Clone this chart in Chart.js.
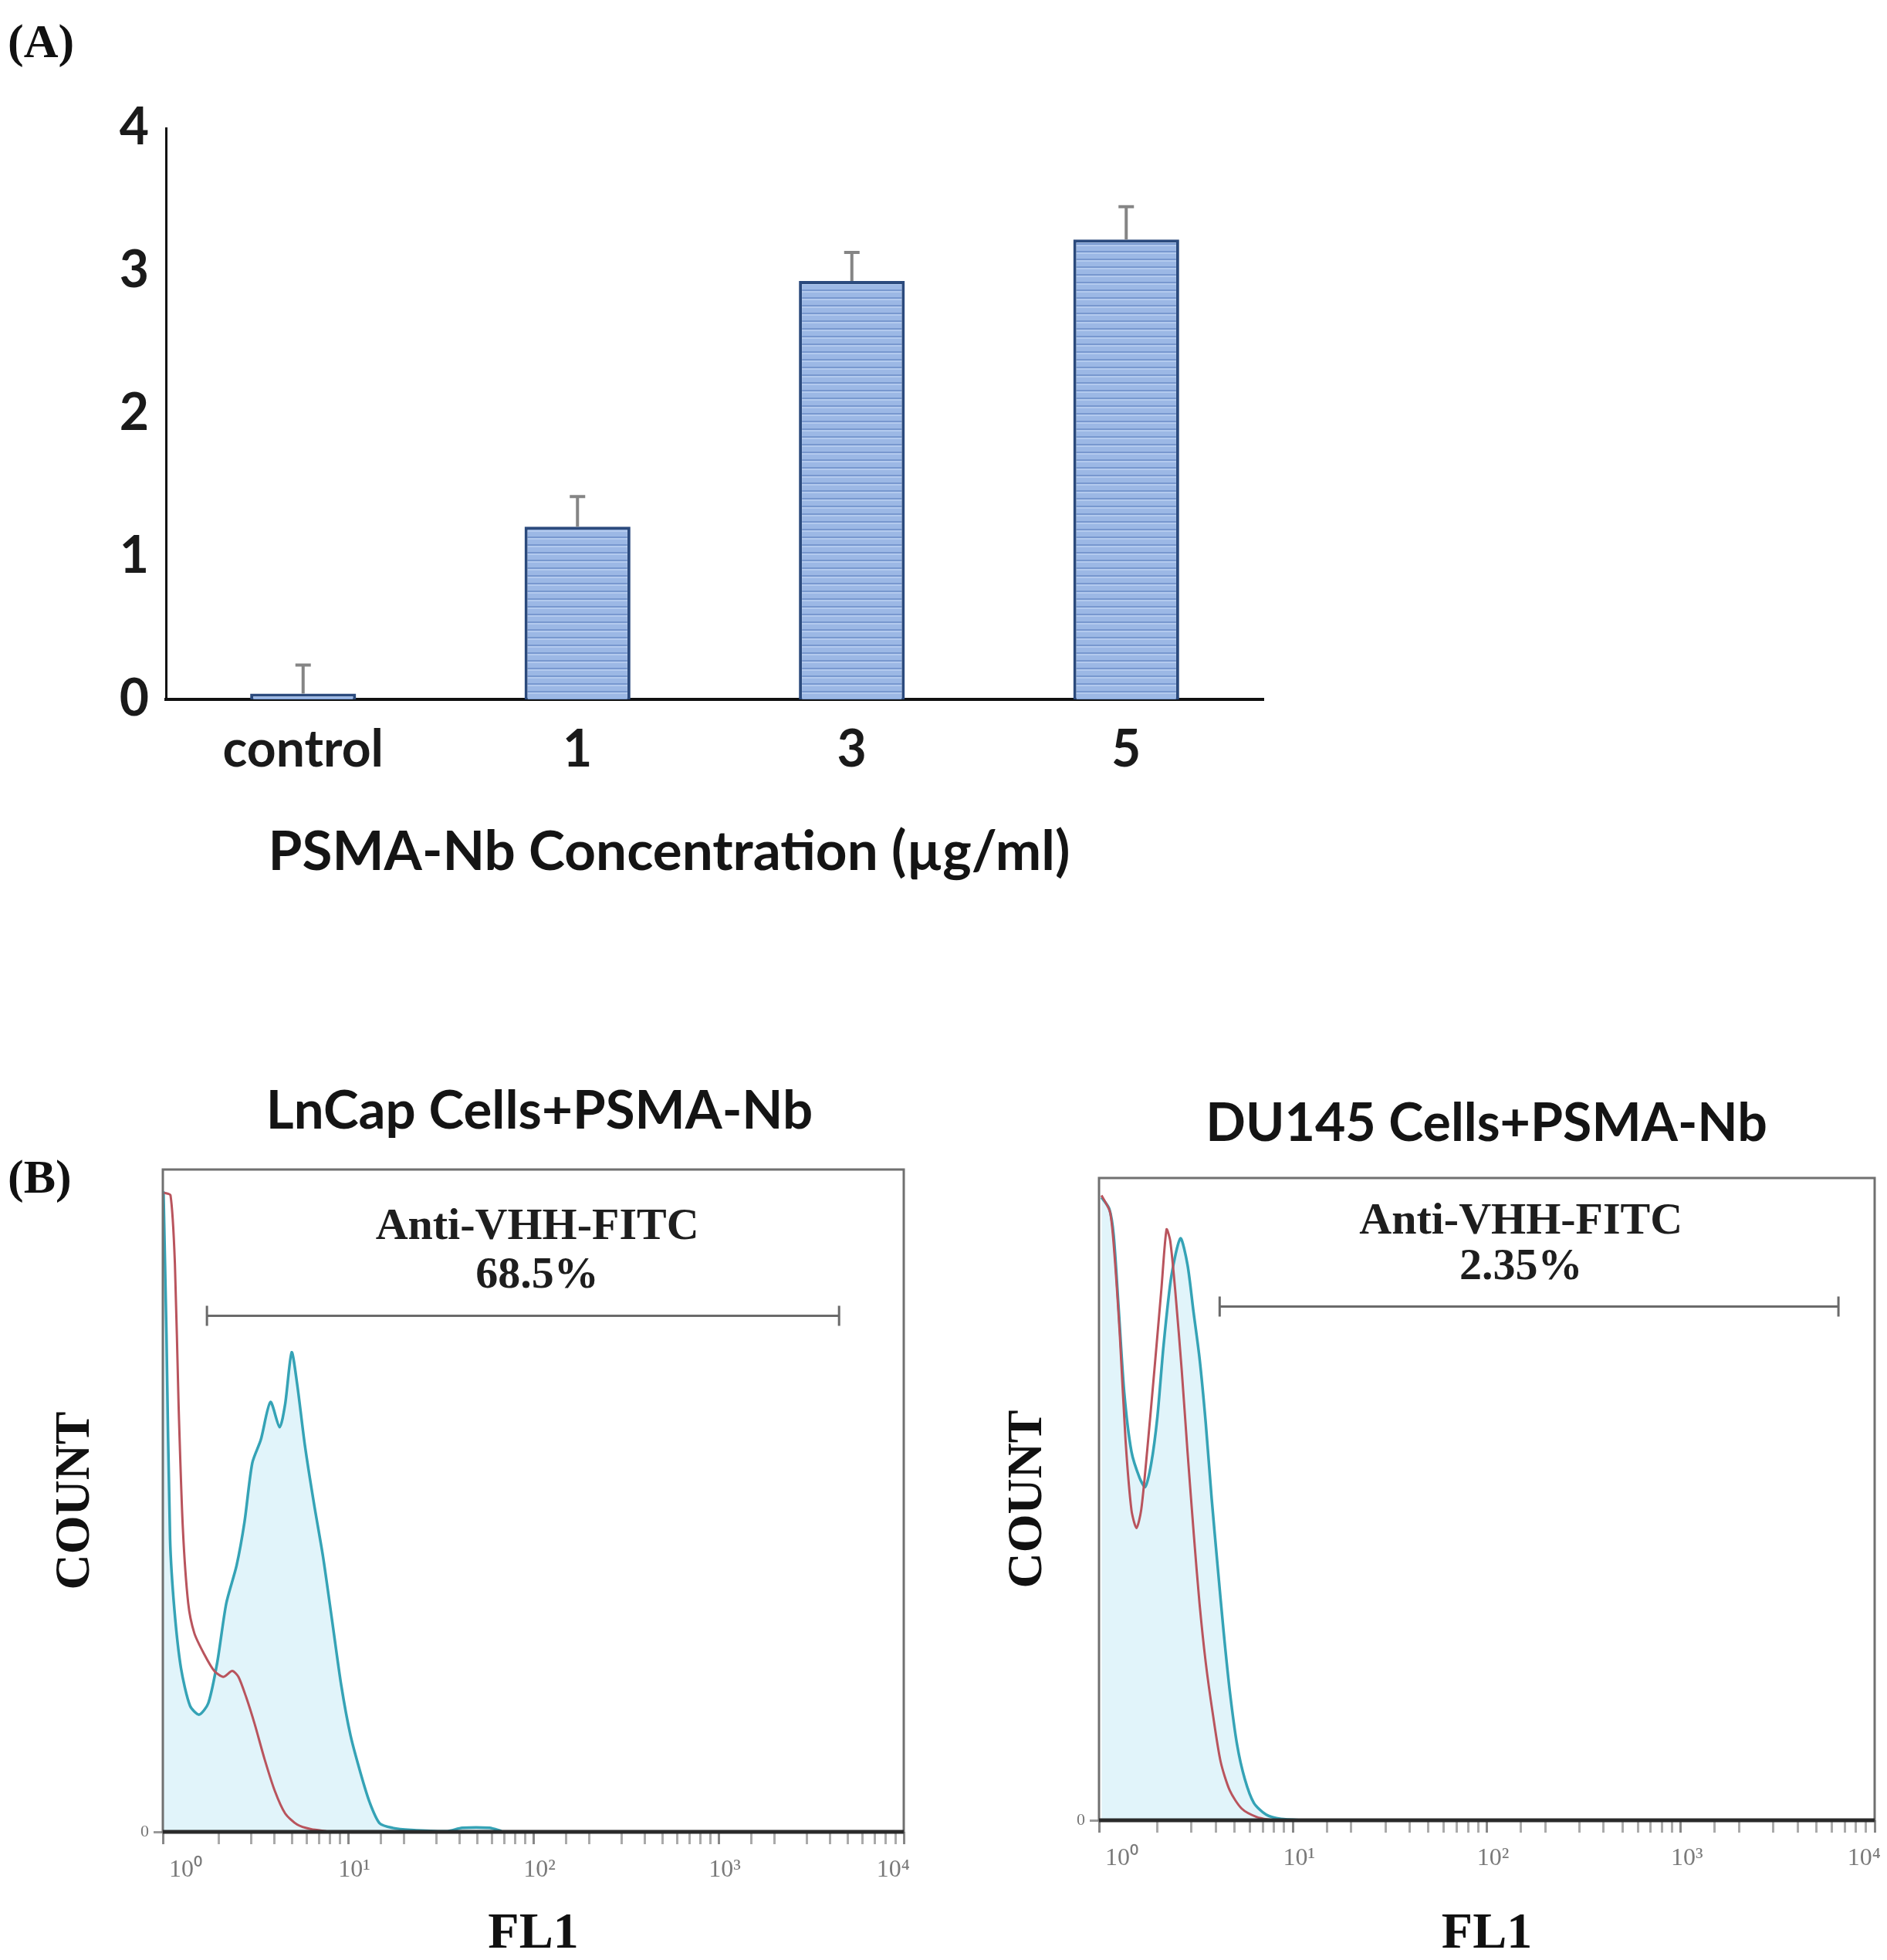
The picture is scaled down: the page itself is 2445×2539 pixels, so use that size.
<!DOCTYPE html>
<html>
<head>
<meta charset="utf-8">
<script src="https://cdn.jsdelivr.net/npm/chart.js@4.4.1/dist/chart.umd.min.js"></script>
<style>
  body { margin: 0; background: #fff; width: 2445px; height: 2539px; position: relative; overflow: hidden; }
  canvas { position: absolute; }
  .lbl { position: absolute; font-family: "Liberation Serif", serif; font-weight: bold; font-size: 62px; color: #111; }
  .ttl { position: absolute; font-family: Lato, sans-serif; font-weight: bold; color: #141414;
         transform: translateX(-50%); white-space: nowrap; line-height: 80px; }
</style>
</head>
<body>
<div class="lbl" style="left:10px;top:18px">(A)</div>
<div class="lbl" style="left:10px;top:1489px">(B)</div>
<div class="ttl" style="left:867px;top:1060px;font-size:71px">PSMA-Nb Concentration (µg/ml)</div>
<div class="ttl" style="left:699px;top:1396px;font-size:69px">LnCap Cells+PSMA-Nb</div>
<div class="ttl" style="left:1926px;top:1412px;font-size:68px">DU145 Cells+PSMA-Nb</div>

<canvas id="chartA" width="1700" height="1160" style="left:0;top:0;width:1700px;height:1160px"></canvas>
<canvas id="chartB1" width="1222" height="1159" style="left:0;top:1380px;width:1222px;height:1159px"></canvas>
<canvas id="chartB2" width="1223" height="1159" style="left:1222px;top:1380px;width:1223px;height:1159px"></canvas>

<script>
// ---- panel A data
const concLabels = ['control', '1', '3', '5'];
const signal = [0.04, 1.21, 2.93, 3.22];
const signalErr = [0.2, 0.21, 0.2, 0.23];

// ---- panel B data (FL1 intensity, count as % of max)
const lncapStained = [
  {x: 1.008, y: 96.7}, {x: 1.046, y: 75}, {x: 1.094, y: 44.2}, {x: 1.154, y: 33.6}, {x: 1.253, y: 24.7},
  {x: 1.403, y: 19.0}, {x: 1.57, y: 17.7}, {x: 1.758, y: 19.4}, {x: 1.967, y: 25.6}, {x: 2.2, y: 34.5},
  {x: 2.5, y: 40.2}, {x: 2.76, y: 46.8}, {x: 3.04, y: 55.7}, {x: 3.38, y: 59.2}, {x: 3.81, y: 64.9},
  {x: 4.27, y: 61.1}, {x: 4.57, y: 64.5}, {x: 4.96, y: 72.4}, {x: 5.31, y: 67.6}, {x: 5.85, y: 58.3},
  {x: 6.55, y: 49.5}, {x: 7.33, y: 41.5}, {x: 8.21, y: 31.8}, {x: 9.19, y: 22.1}, {x: 10.3, y: 14.6},
  {x: 11.7, y: 8.8}, {x: 13.1, y: 4.4}, {x: 14.8, y: 1.3}, {x: 17.4, y: 0.6}, {x: 21.8, y: 0.3},
  {x: 34.3, y: 0.1}, {x: 41.3, y: 0.6}, {x: 58.0, y: 0.6}, {x: 67.4, y: 0.1}
];
const lncapControl = [
  {x: 1.015, y: 96.5}, {x: 1.1, y: 96.1}, {x: 1.162, y: 85.7}, {x: 1.216, y: 64.5}, {x: 1.282, y: 45.9},
  {x: 1.371, y: 34.5}, {x: 1.479, y: 30.0}, {x: 1.667, y: 26.9}, {x: 1.895, y: 24.3}, {x: 2.12, y: 23.4},
  {x: 2.37, y: 24.3}, {x: 2.56, y: 23.4}, {x: 2.82, y: 20.3}, {x: 3.13, y: 16.3}, {x: 3.54, y: 11.0},
  {x: 4.02, y: 6.2}, {x: 4.57, y: 2.8}, {x: 5.31, y: 1.1}, {x: 6.31, y: 0.4}, {x: 7.62, y: 0.1}
];
const du145Stained = [
  {x: 1.03, y: 97.0}, {x: 1.13, y: 95.2}, {x: 1.19, y: 91.1}, {x: 1.26, y: 80.1}, {x: 1.35, y: 66.5},
  {x: 1.47, y: 57.4}, {x: 1.62, y: 53.3}, {x: 1.73, y: 51.9}, {x: 1.86, y: 55.6}, {x: 2.0, y: 62.8},
  {x: 2.15, y: 73.8}, {x: 2.36, y: 84.7}, {x: 2.63, y: 90.6}, {x: 2.86, y: 86.5}, {x: 3.07, y: 79.2},
  {x: 3.3, y: 71.9}, {x: 3.55, y: 61.9}, {x: 3.81, y: 50.1}, {x: 4.1, y: 39.2}, {x: 4.4, y: 29.1},
  {x: 4.73, y: 20.0}, {x: 5.15, y: 11.8}, {x: 5.65, y: 6.4}, {x: 6.29, y: 2.7}, {x: 7.26, y: 0.9},
  {x: 8.69, y: 0.2}, {x: 11.6, y: 0}
];
const du145Control = [
  {x: 1.03, y: 97.3}, {x: 1.14, y: 94.7}, {x: 1.2, y: 88.3}, {x: 1.28, y: 75.6}, {x: 1.37, y: 59.2},
  {x: 1.47, y: 48.3}, {x: 1.56, y: 45.5}, {x: 1.65, y: 48.3}, {x: 1.77, y: 57.4}, {x: 1.93, y: 70.1},
  {x: 2.1, y: 82.9}, {x: 2.23, y: 92.0}, {x: 2.33, y: 90.2}, {x: 2.48, y: 82.0}, {x: 2.67, y: 70.1},
  {x: 2.86, y: 57.4}, {x: 3.08, y: 44.6}, {x: 3.3, y: 33.7}, {x: 3.55, y: 24.6}, {x: 3.87, y: 16.4},
  {x: 4.24, y: 9.1}, {x: 4.73, y: 4.6}, {x: 5.45, y: 1.8}, {x: 6.52, y: 0.5}, {x: 7.8, y: 0}
];
// gate: [from, to, height]
const lncapGate = [1.73, 4475, 77.9];
const du145Gate = [4.19, 6505, 80.0];
const lncapPct = '68.5%';
const du145Pct = '2.35%';
const gateName = 'Anti-VHH-FITC';

Chart.defaults.devicePixelRatio = 1;
Chart.defaults.animation = false;

// striped fill like the original bars
const pc = document.createElement('canvas');
pc.width = 10; pc.height = 10;
const pctx = pc.getContext('2d');
pctx.fillStyle = '#9cb8e5';
pctx.fillRect(0, 0, 10, 10);
pctx.fillStyle = '#7898cf';
pctx.fillRect(0, 5, 10, 2);
pctx.fillStyle = '#b3caee';
pctx.fillRect(0, 7, 10, 2);
const ctxA = document.getElementById('chartA').getContext('2d');
const stripes = ctxA.createPattern(pc, 'repeat');

const errorBars = {
  id: 'errorBars',
  afterDatasetsDraw(chart) {
    const ctx = chart.ctx;
    const y = chart.scales.y;
    const meta = chart.getDatasetMeta(0);
    ctx.save();
    ctx.strokeStyle = '#858585';
    ctx.lineWidth = 4;
    meta.data.forEach((bar, i) => {
      const top = y.getPixelForValue(signal[i] + signalErr[i]);
      ctx.beginPath();
      ctx.moveTo(bar.x, bar.y);
      ctx.lineTo(bar.x, top);
      ctx.moveTo(bar.x - 10, top);
      ctx.lineTo(bar.x + 10, top);
      ctx.stroke();
    });
    ctx.restore();
  }
};

const boldSans = (size) => ({family: 'Lato', weight: 'bold', size: size});

new Chart(ctxA, {
  type: 'bar',
  data: {
    labels: concLabels,
    datasets: [{
      data: signal,
      backgroundColor: stripes,
      borderColor: '#2b4a7d',
      borderWidth: 4,
      barPercentage: 0.386,
      categoryPercentage: 1
    }]
  },
  options: {
    responsive: false,
    layout: {padding: {top: 166, right: 63, left: 0, bottom: 0}},
    plugins: {legend: {display: false}, tooltip: {enabled: false}},
    scales: {
      x: {
        grid: {display: false, drawTicks: false},
        border: {color: '#111', width: 4},
        ticks: {font: boldSans(66), color: '#1a1a1a', padding: 26},
        afterFit(s) { s.height = 254; }
      },
      y: {
        min: 0, max: 4,
        grid: {display: false, drawTicks: false},
        border: {color: '#111', width: 3},
        ticks: {stepSize: 1, font: boldSans(66), color: '#1a1a1a', padding: 22},
        afterFit(s) { s.width = 215; }
      }
    }
  },
  plugins: [errorBars]
});

// frame, gate bracket and gate text for the histograms
const facsFrame = {
  id: 'facsFrame',
  afterDatasetsDraw(chart, args, opts) {
    const {ctx, chartArea: a, scales: {x, y}} = chart;
    ctx.save();
    ctx.strokeStyle = '#707070';
    ctx.lineWidth = 3;
    ctx.strokeRect(a.left, a.top, a.right - a.left, a.bottom - a.top);
    ctx.strokeStyle = '#2a2a2a';
    ctx.lineWidth = 5;
    ctx.beginPath();
    ctx.moveTo(a.left, a.bottom);
    ctx.lineTo(a.right, a.bottom);
    ctx.stroke();

    const g = opts.gate;
    const x1 = x.getPixelForValue(g[0]);
    const x2 = x.getPixelForValue(g[1]);
    const gy = y.getPixelForValue(g[2]);
    ctx.strokeStyle = '#6a6a6a';
    ctx.lineWidth = 3;
    ctx.beginPath();
    ctx.moveTo(x1, gy); ctx.lineTo(x2, gy);
    ctx.moveTo(x1, gy - 13); ctx.lineTo(x1, gy + 13);
    ctx.moveTo(x2, gy - 13); ctx.lineTo(x2, gy + 13);
    ctx.stroke();

    ctx.fillStyle = '#1e1e1e';
    ctx.font = 'bold 58px "Liberation Serif"';
    ctx.textAlign = 'center';
    ctx.textBaseline = 'middle';
    const tx = x.getPixelForValue(opts.textX);
    ctx.fillText(gateName, tx, y.getPixelForValue(opts.textY[0]));
    ctx.fillText(opts.pct, tx, y.getPixelForValue(opts.textY[1]));
    ctx.restore();
  }
};

const supers = ['\u2070', '\u00b9', '\u00b2', '\u00b3', '\u2074'];
const serif = (size, weight) => ({family: 'Liberation Serif', size: size, weight: weight || 'normal'});

function facsChart(id, stained, control, frameOpts, pad, yWidth, xHeight, countPad) {
  return new Chart(document.getElementById(id), {
    type: 'line',
    data: {
      datasets: [
        {data: control, borderColor: '#b9545d', borderWidth: 3, pointRadius: 0, tension: 0.25, fill: false},
        {data: stained, borderColor: '#35a3b6', borderWidth: 3.5, pointRadius: 0, tension: 0.25,
         fill: 'origin', backgroundColor: 'rgba(205,236,246,0.6)'}
      ]
    },
    options: {
      responsive: false,
      layout: {padding: pad},
      plugins: {legend: {display: false}, tooltip: {enabled: false}, facsFrame: frameOpts},
      scales: {
        x: {
          type: 'logarithmic', min: 1, max: 10000,
          border: {display: false},
          grid: {
            drawOnChartArea: false, tickLength: 16, lineWidth: 3,
            tickColor: (c) => Number.isInteger(Math.log10(c.tick.value)) ? '#888' : '#aaa'
          },
          ticks: {
            autoSkip: false, maxRotation: 0, minRotation: 0, align: 'inner', labelOffset: 8, padding: 14,
            font: serif(32), color: '#7a7a7a',
            callback(v) {
              const e = Math.log10(v);
              return Math.abs(e - Math.round(e)) < 1e-9 ? '10' + supers[Math.round(e)] : '';
            }
          },
          title: {display: true, text: 'FL1', font: {family: 'Liberation Serif', size: 66, weight: 'bold', lineHeight: 1},
                  color: '#111', padding: {top: 0, bottom: 0}},
          afterFit(s) { s.height = xHeight; }
        },
        y: {
          min: 0, max: 100,
          border: {display: false},
          grid: {drawOnChartArea: false, tickLength: 12, color: '#999', lineWidth: 3},
          afterBuildTicks(s) { s.ticks = [{value: 0}]; },
          ticks: {font: serif(22), color: '#777', padding: 6, callback: () => '0'},
          title: {display: true, text: 'COUNT', font: serif(64, 'bold'), color: '#111', padding: {top: countPad, bottom: 0}},
          afterFit(s) { s.width = yWidth; }
        }
      }
    },
    plugins: [facsFrame]
  });
}

facsChart('chartB1', lncapStained, lncapControl,
  {gate: lncapGate, pct: lncapPct, textX: 105, textY: [91.2, 83.9]},
  {top: 135, right: 51, left: 0, bottom: 0}, 211, 166, 60);

facsChart('chartB2', du145Stained, du145Control,
  {gate: du145Gate, pct: du145Pct, textX: 150, textY: [93.1, 86.1]},
  {top: 146, right: 16, left: 0, bottom: 0}, 202, 181, 72);
</script>
</body>
</html>
